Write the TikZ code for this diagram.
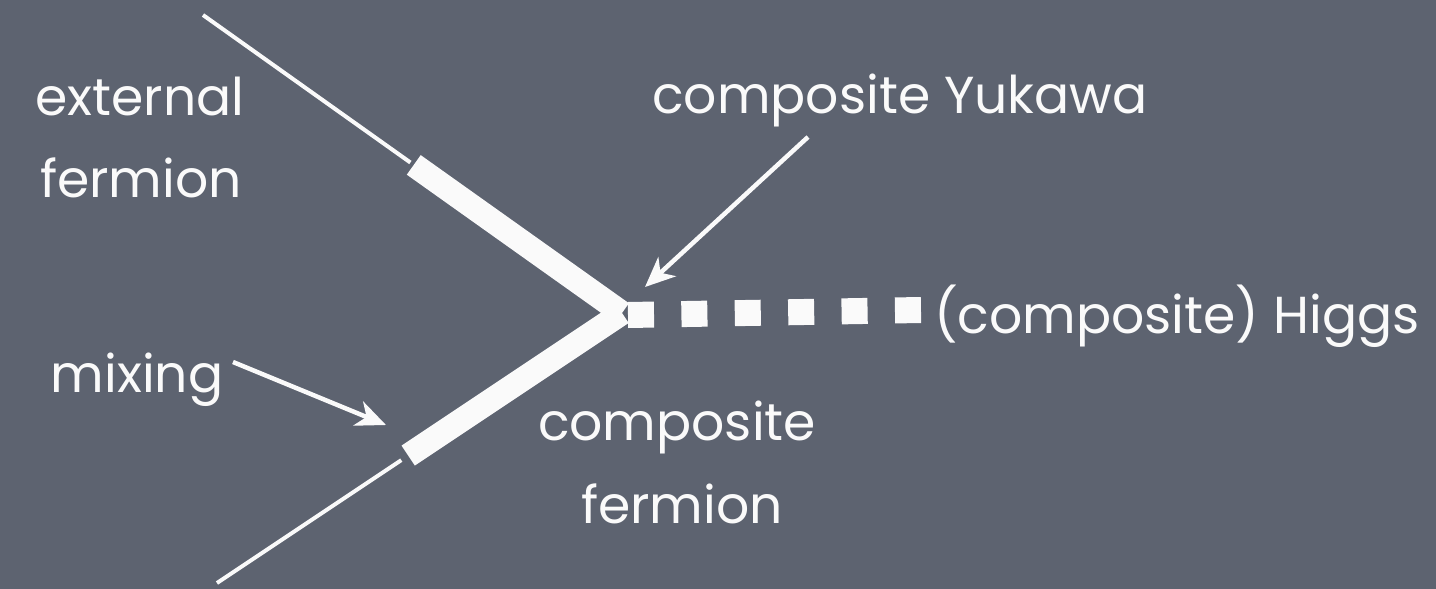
\documentclass[tikz,border=0pt]{standalone}
\usepackage{fontspec}
\setmainfont{Poppins}
\usetikzlibrary{arrows.meta,calc}
\definecolor{board}{RGB}{93,99,112}
\definecolor{chalk}{RGB}{250,250,250}
\tikzset{
  lbl/.style={text=chalk, font=\fontsize{52}{62}\selectfont, inner sep=0pt, anchor=base},
  thinline/.style={draw=chalk, line width=4pt},
  thickline/.style={draw=chalk, line width=24pt, line cap=butt},
  higgsline/.style={draw=chalk, line width=26pt, dash pattern=on 26pt off 27.4pt},
  arr/.style={draw=chalk, line width=4.5pt, -{Stealth[length=30pt,width=26pt,inset=9pt]}}
}
\begin{document}
\begin{tikzpicture}[x=1pt,y=-1pt]
\fill[board] (0,0) rectangle (1436,589);
\useasboundingbox (0,0) rectangle (1436,589);
% coordinates
\coordinate (v) at (622,313);
\coordinate (t1) at (203,15);
\coordinate (b1) at (217,583);
\coordinate (h1) at (628,315);
\coordinate (h2) at (921,310);
\coordinate (yk1) at (808,137);
\coordinate (yk2) at (645,287);
\coordinate (mx1) at (233,362);
\coordinate (mx2) at (386,425);
% fermion lines
\draw[thinline] (t1) -- ($(t1)!0.495!(v)$);
\draw[thickline] ($(t1)!0.503!(v)$) -- (v);
\draw[thinline] (b1) -- ($(b1)!0.455!(v)$);
\draw[thickline] ($(b1)!0.472!(v)$) -- (v);
% Higgs
\draw[higgsline] (h1) -- (h2);
% arrows
\draw[arr] (yk1) -- (yk2);
\draw[arr] (mx1) -- (mx2);
% labels
\node[lbl] (ext1) at (140,115) {external};
\node[lbl] (ext2) at (141,197) {fermion};
\node[lbl] (yuk) at (900,113) {composite Yukawa};
\node[lbl] (higgs) at (1177,333) {(composite) Higgs};
\node[lbl] (mix) at (137,392) {mixing};
\node[lbl] (cf1) at (677,440) {composite};
\node[lbl] (cf2) at (682,523) {fermion};
\end{tikzpicture}
\end{document}
